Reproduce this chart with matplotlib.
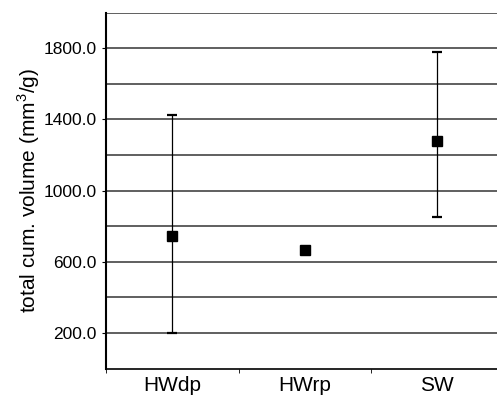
import matplotlib
matplotlib.use('Agg')
import matplotlib.pyplot as plt

plt.rcParams['font.family'] = ['Liberation Sans', 'DejaVu Sans']
plt.rcParams['mathtext.fontset'] = 'custom'
plt.rcParams['mathtext.rm'] = 'Liberation Sans'

# datos
grupos = ['HWdp', 'HWrp', 'SW']
media = [747, 666, 1280]
err_inf = [547, 10, 430]
err_sup = [678, 10, 500]

fig = plt.figure(figsize=(4.97, 4.0), dpi=100)
ax = fig.add_axes([0.2133, 0.0785, 0.80, 0.89])

x = [1, 2, 3]
ax.errorbar(x, media, yerr=[err_inf, err_sup], fmt='s', color='black',
            markersize=6.8, ecolor='black', elinewidth=0.9, capsize=3.4,
            capthick=1.6, zorder=3)

ax.set_xlim(0.5, 3.5)
ax.set_ylim(0, 2000)
ax.set_yticks([200, 600, 1000, 1400, 1800])
ax.set_yticklabels(['200.0', '600.0', '1000.0', '1400.0', '1800.0'])
ax.set_yticks(range(200, 2001, 200), minor=True)
ax.grid(axis='y', which='both', color='#444444', linewidth=1.2, zorder=0)

ax.set_xticks(x)
ax.set_xticklabels(grupos)
ax.set_xticks([0.5, 1.5, 2.5, 3.5], minor=True)
ax.tick_params(axis='x', which='major', length=0, labelsize=15, pad=5)
ax.tick_params(axis='x', which='minor', length=3, direction='out')
ax.tick_params(axis='y', which='major', length=3, labelsize=12.5, pad=4)
ax.tick_params(axis='y', which='minor', length=0)

ax.set_ylabel(r'total cum. volume (mm$^\mathregular{3}$/g)', fontsize=15, labelpad=1)

ax.spines['left'].set_linewidth(1.5)
ax.spines['bottom'].set_linewidth(1.2)
ax.spines['top'].set_visible(False)
ax.spines['right'].set_visible(False)

plt.savefig('out.png', dpi=100)
